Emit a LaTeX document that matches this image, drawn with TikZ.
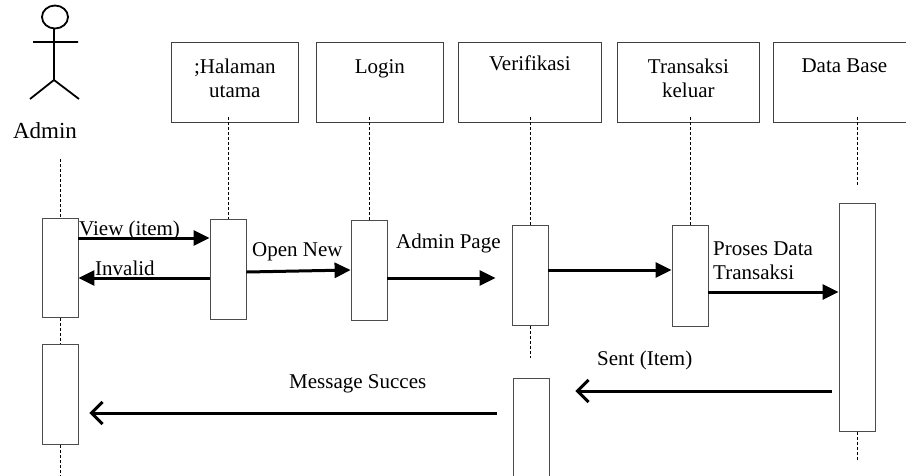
\documentclass[tikz,border=0pt]{standalone}
\usepackage{fontspec}
\setmainfont{Liberation Serif}
\usetikzlibrary{arrows.meta}

\begin{document}
\begin{tikzpicture}[x=1pt,y=-1pt,
    every node/.style={font=\fontsize{21pt}{24pt}\selectfont, inner sep=0pt},
    obj/.style={draw=black!75, line width=0.8pt, minimum width=#1, minimum height=80pt, anchor=north west},
    act/.style={draw=black!70, line width=0.8pt, fill=white, minimum width=36pt, minimum height=#1, anchor=north},
    life/.style={dash pattern=on 3pt off 2pt, line width=0.6pt},
    msg/.style={line width=3pt, -{Triangle[length=16pt,width=15pt]}},
    ret/.style={line width=3pt, -{Straight Barb[length=11pt,width=22pt]}}]
    \useasboundingbox (0,0) rectangle (906,475);

    \draw[line width=1.8pt] (55,17) ellipse [x radius=13pt, y radius=11.5pt];
    \draw[line width=1.8pt] (54,29) -- (54,80) (33,42) -- (78,42) (30,99) -- (54,80) -- (79,99);
    \node[anchor=base, font=\fontsize{23pt}{26pt}\selectfont] (admin) at (45,138) {Admin};

    \node[obj=127pt, label={[anchor=north, yshift=-17pt, align=center]north:{;Halaman\\utama}}] (hal) at (171,42) {};
    \node[obj=127pt, label={[anchor=north, yshift=-17pt]north:Login}] (log) at (316,42) {};
    \node[obj=143pt, label={[anchor=north, yshift=-14pt]north:Verifikasi}] (ver) at (458,42) {};
    \node[obj=142pt, label={[anchor=north, yshift=-17pt, align=center]north:{Transaksi\\keluar}}] (trx) at (617,42) {};
    \node[obj=142pt, label={[anchor=north, yshift=-17pt]north:Data Base}] (db) at (773,42) {};

    \node[act=99pt] (adm1) at (60,218) {};
    \node[act=100pt] (adm2) at (60,344) {};
    \node[act=100pt] (hal1) at (228,219) {};
    \node[act=100pt] (log1) at (369,220) {};
    \node[act=100pt] (ver1) at (530,225) {};
    \node[act=110pt] (ver2) at (531,378) {};
    \node[act=101pt] (trx1) at (690,225) {};
    \node[act=228pt] (db1) at (857,203) {};

    \draw[life] (adm1 |- 0,159) -- (adm1.north) (adm1.south) -- (adm2.north) (adm2.south) -- (adm2 |- 0,475);
    \draw[life] (hal1 |- 0,117) -- (hal1.north);
    \draw[life] (log1 |- 0,117) -- (log1.north);
    \draw[life] (ver1 |- 0,117) -- (ver1.north) (ver1.south) -- (ver1 |- 0,358);
    \draw[life] (trx1 |- 0,117) -- (trx1.north);
    \draw[life] (db1 |- 0,117) -- (db1 |- 0,186) (db1.south) -- (db1 |- 0,460);

    \draw[msg] (adm1.east |- 0,238) -- (hal1.west |- 0,238);
    \draw[msg] (hal1.west |- 0,278) -- (adm1.east |- 0,278);
    \draw[msg] (hal1.east |- 0,272) -- (log1.west |- 0,270);
    \draw[msg] (log1.east |- 0,278) -- ([xshift=-16pt]ver1.west |- 0,278);
    \draw[msg] (ver1.east |- 0,270) -- (trx1.west |- 0,270);
    \draw[msg] (trx1.east |- 0,292) -- (db1.west |- 0,292);
    \draw[ret] ([xshift=-7pt]db1.west |- 0,391) -- ([xshift=26pt]ver2.east |- 0,391);
    \draw[ret] ([xshift=-16pt]ver2.west |- 0,413) -- ([xshift=11pt]adm2.east |- 0,413);

    \node[anchor=base west] (lview) at (79,235) {View (item)};
    \node[anchor=base west] (linvalid) at (95,275) {Invalid};
    \node[anchor=base west] (lopen) at (252,256) {Open New};
    \node[anchor=base west] (ladmin) at (396,248) {Admin Page};
    \node[anchor=north west, align=left] (lproses) at (713,242) {Proses Data\\Transaksi};
    \node[anchor=base west] (lsent) at (597,365) {Sent (Item)};
    \node[anchor=base west] (lmsg) at (289,388) {Message Succes};
\end{tikzpicture}
\end{document}
